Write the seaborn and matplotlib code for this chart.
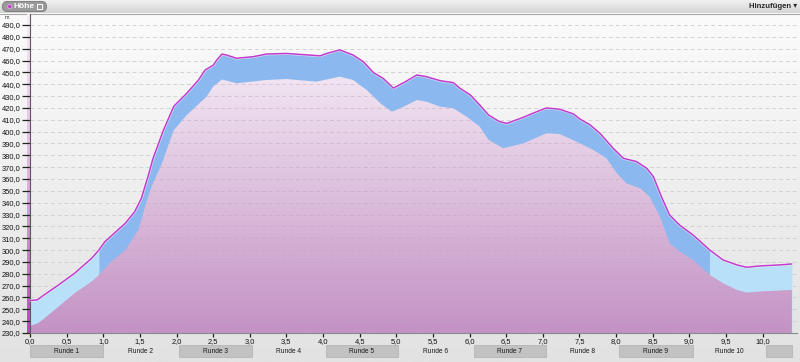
import numpy as np
import matplotlib
matplotlib.use("Agg")
import matplotlib.pyplot as plt
import seaborn as sns
from matplotlib.patches import Polygon, Rectangle, FancyBboxPatch, Circle
from matplotlib.colors import LinearSegmentedColormap
import matplotlib.transforms as mtransforms

# ---------------- data ----------------
elev_km = [0.00, 0.10, 0.20, 0.39, 0.61, 0.84, 0.94, 1.02, 1.30, 1.43, 1.52, 1.61,
           1.68, 1.82, 1.96, 1.98, 2.14, 2.30, 2.39, 2.50, 2.55, 2.62, 2.68, 2.82,
           3.05, 3.23, 3.50, 3.96, 4.05, 4.23, 4.41, 4.55, 4.69, 4.82, 4.96, 5.10,
           5.28, 5.41, 5.60, 5.78, 5.87, 6.01, 6.14, 6.26, 6.41, 6.51, 6.73, 6.92,
           7.05, 7.23, 7.42, 7.51, 7.64, 7.78, 7.96, 8.10, 8.28, 8.42, 8.51, 8.62,
           8.73, 8.87, 9.05, 9.28, 9.46, 9.65, 9.78, 9.96, 10.24, 10.40]
elev_m = [257.4, 258.0, 262.5, 270.6, 280.5, 293.0, 300.0, 307.0, 322.6, 332.5, 343.7, 362.0,
          377.5, 401.0, 421.0, 422.5, 432.4, 443.6, 452.0, 456.0, 460.5, 465.5, 464.7, 461.9,
          463.3, 465.5, 466.0, 464.0, 466.0, 469.0, 464.7, 459.0, 449.8, 445.0, 436.8, 441.3,
          447.8, 446.4, 443.0, 441.3, 436.6, 431.0, 422.5, 414.0, 408.4, 407.0, 412.0, 416.9,
          420.0, 418.9, 414.9, 410.5, 406.0, 398.6, 386.0, 377.5, 374.7, 369.0, 362.0, 345.0,
          329.7, 321.0, 312.8, 300.0, 291.7, 287.5, 285.5, 286.6, 287.5, 288.3]

base_km = [0.00, 0.11, 0.20, 0.39, 0.61, 0.84, 0.94, 1.11, 1.30, 1.48, 1.57, 1.66,
           1.80, 1.96, 2.14, 2.41, 2.50, 2.62, 2.82, 3.23, 3.50, 3.91, 4.23, 4.41,
           4.60, 4.78, 4.94, 5.10, 5.28, 5.41, 5.60, 5.78, 5.96, 6.14, 6.26, 6.46,
           6.73, 7.05, 7.23, 7.46, 7.69, 7.87, 8.01, 8.14, 8.33, 8.46, 8.60, 8.73,
           8.87, 9.05, 9.28, 9.46, 9.65, 9.78, 9.96, 10.40]
base_m = [236.0, 238.3, 242.5, 252.3, 263.6, 273.4, 279.0, 290.3, 300.0, 317.0, 336.7, 353.6,
          373.0, 401.0, 414.0, 429.5, 438.0, 444.0, 440.8, 443.6, 444.4, 442.2, 446.4, 443.6,
          435.0, 424.0, 416.8, 421.0, 426.7, 425.3, 421.0, 419.7, 412.6, 404.2, 393.0, 386.0,
          390.0, 398.6, 398.0, 391.5, 384.5, 377.5, 364.9, 356.4, 352.2, 345.0, 328.2, 305.8,
          298.7, 291.7, 279.0, 272.0, 266.4, 264.1, 265.0, 266.4]

lap_starts = [0.00, 1.00, 2.03, 3.03, 4.04, 5.02, 6.06, 7.04, 8.04, 9.05, 10.05]
lap_ends = [1.00, 2.03, 3.03, 4.04, 5.02, 6.06, 7.04, 8.04, 9.05, 10.05, 10.40]
lap_labels = ["Runde 1", "Runde 2", "Runde 3", "Runde 4", "Runde 5", "Runde 6",
              "Runde 7", "Runde 8", "Runde 9", "Runde 10", ""]

x_ticks = [0.0, 0.5, 1.0, 1.5, 2.0, 2.5, 3.0, 3.5, 4.0, 4.5, 5.0, 5.5, 6.0, 6.5,
           7.0, 7.5, 8.0, 8.5, 9.0, 9.5, 10.0]
y_ticks = [230, 240, 250, 260, 270, 280, 290, 300, 310, 320, 330, 340, 350, 360,
           370, 380, 390, 400, 410, 420, 430, 440, 450, 460, 470, 480, 490]

light_before = 0.94
light_after = 9.28

# ---------------- style ----------------
sns.set_theme(style="white")
plt.rcParams['font.family'] = ['Liberation Sans', 'DejaVu Sans']

W, H = 800, 362
XMAX, YMIN, YMAX = 10.47, 230, 499.3
fig = plt.figure(figsize=(W / 100, H / 100), dpi=100)
grad = np.linspace(0, 1, 256)[:, None]

# background (pixel coordinates)
bg = fig.add_axes([0, 0, 1, 1])
bg.set_zorder(-5)
bg_cmap = LinearSegmentedColormap.from_list('bg', ['#fbfbfb', '#e2e2e2'])
bg.imshow(grad, cmap=bg_cmap, extent=[0, W, H, 13.5], aspect='auto', origin='upper')
hd_cmap = LinearSegmentedColormap.from_list('hd', ['#f3f3f3', '#d4d4d4'])
bg.imshow(grad, cmap=hd_cmap, extent=[0, W, 13.5, 0], aspect='auto', origin='upper')
bg.plot([0, W], [13.5, 13.5], color='#a9a9a9', lw=0.8)
pill = FancyBboxPatch((2.5, 1.4), 44, 10.2, boxstyle="round,pad=0,rounding_size=5.0",
                      fc='#9a9a9a', ec='#777777', lw=0.6)
bg.add_patch(pill)
bg.add_patch(Circle((9.8, 6.5), 2.1, fc='#c23ccc', ec='#f0d0f0', lw=0.4))
bg.text(13.8, 6.7, "Höhe", color='white', fontsize=6.0, fontweight='bold', va='center', ha='left')
bg.add_patch(Rectangle((36.5, 4.0), 5.8, 4.6, fc='none', ec='white', lw=0.7))
bg.text(797, 6.7, "Hinzufügen ▾", color='#2a2a2a', fontsize=5.6, fontweight='bold',
        va='center', ha='right', family=['Liberation Sans', 'DejaVu Sans'])
bg.text(5, 17.5, "m", color='#333333', fontsize=3.8, va='center', ha='left')
bg.set_xlim(0, W)
bg.set_ylim(H, 0)
bg.axis('off')

# y-axis magenta bar
bar = fig.add_axes([27 / W, (H - 333) / H, 3 / W, 319 / H])
bar.set_zorder(1)
bar_cmap = LinearSegmentedColormap.from_list('bar', ['#f8ecf8', '#e3b4e4', '#c440cc'])
bar.imshow(grad, cmap=bar_cmap, extent=[0, 1, 0, 1], aspect='auto', origin='upper')
bar.set_xlim(0, 1)
bar.set_ylim(0, 1)
bar.axis('off')

# main axes
ax = fig.add_axes([30 / W, (H - 333) / H, 767 / W, 319 / H])
ax.set_zorder(2)
ax.patch.set_alpha(0)

# background grid
for yv in y_ticks[1:]:
    ax.axhline(yv, color='#d2d2d2', lw=0.7, ls=(0, (4, 3)), zorder=0.5)

ek = np.array(elev_km)
em = np.array(elev_m)
m1 = ek <= light_before
m2 = (ek >= light_before) & (ek <= light_after)
m3 = ek >= light_after
ax.fill_between(ek[m1], em[m1], YMIN, color='#b8e0f8', lw=0, zorder=1)
ax.fill_between(ek[m2], em[m2], YMIN, color='#8bb9ef', lw=0, zorder=1)
ax.fill_between(ek[m3], em[m3], YMIN, color='#b8e0f8', lw=0, zorder=1)

# pink gradient area
verts = list(zip(base_km, base_m)) + [(base_km[-1], YMIN), (base_km[0], YMIN)]
patch = Polygon(verts, closed=True, fc='none', ec='none', transform=ax.transData)
ax.add_patch(patch)
pink_cmap = LinearSegmentedColormap.from_list('pink', ['#fcf8fc', '#c492c5'])
im = ax.imshow(grad, cmap=pink_cmap, extent=[0, XMAX, YMIN, YMAX], aspect='auto',
               origin='upper', zorder=2)
im.set_clip_path(patch)
for yv in y_ticks[1:]:
    gl = ax.axhline(yv, color='#b9a4ba', lw=0.7, ls=(0, (4, 3)), zorder=2.5, alpha=0.45)
    gl.set_clip_path(patch)

# elevation line
ax.plot(elev_km, elev_m, color='white', lw=2.0, alpha=0.6, zorder=4)
sns.lineplot(x=elev_km, y=elev_m, ax=ax, color='#c23ccc', lw=1.1, zorder=5,
             sort=False, estimator=None)

ax.set_xlim(0, XMAX)
ax.set_ylim(YMIN, YMAX)
ax.set_xticks(x_ticks)
ax.set_xticklabels([f"{v:.1f}".replace('.', ',') for v in x_ticks])
ax.set_yticks(y_ticks)
ax.set_yticklabels([f"{v:.1f}".replace('.', ',') for v in y_ticks])
ax.tick_params(axis='y', left=True, direction='out', length=5.5, width=0.9, color='#222222',
               pad=1.5, labelsize=5.4, labelcolor='#111111')
ax.tick_params(axis='x', bottom=True, direction='out', length=3, width=0.9, color='#222222',
               pad=0.8, labelsize=5.4, labelcolor='#111111')
ax.set_xlabel('')
ax.set_ylabel('')
for s in ['top', 'right']:
    ax.spines[s].set_visible(False)
ax.spines['left'].set_color('#5a5a5a')
ax.spines['left'].set_linewidth(0.8)
ax.spines['bottom'].set_color('#8a8a8a')
ax.spines['bottom'].set_linewidth(0.8)

# lap boxes
trans = mtransforms.blended_transform_factory(ax.transData, fig.transFigure)
y0 = 1 - 357 / H
y1 = 1 - 344.5 / H
for i, (s, e, lab) in enumerate(zip(lap_starts, lap_ends, lap_labels)):
    if i % 2 == 0:
        r = Rectangle((s, y0), e - s, y1 - y0, transform=trans, fc='#c2c2c2',
                      ec='#b0b0b0', lw=0.5, clip_on=False, zorder=1)
        ax.add_patch(r)
    if lab:
        ax.text((s + e) / 2, 1 - 351.3 / H, lab, transform=trans, ha='center', va='center',
                fontsize=4.8, color='#1a1a1a', clip_on=False, zorder=3)

fig.savefig("out.png", dpi=100)
